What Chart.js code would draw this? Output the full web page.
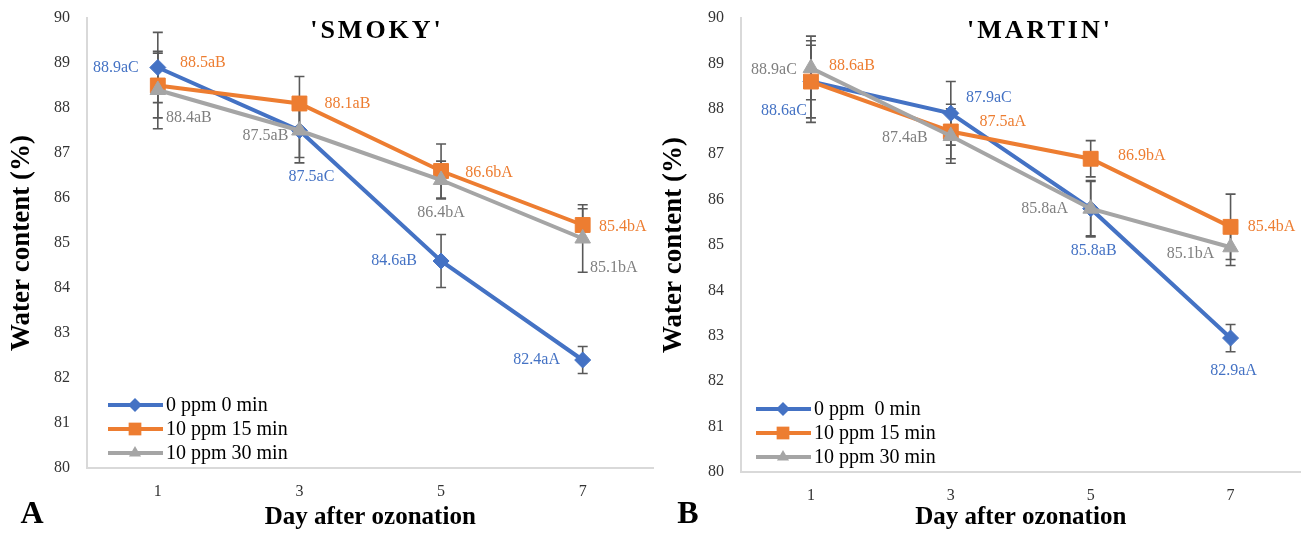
<!DOCTYPE html>
<html>
<head>
<meta charset="utf-8">
<script src="https://cdn.jsdelivr.net/npm/chart.js@4"></script>
<style>
  html, body { margin: 0; padding: 0; background: #fff; }
  #wrap { position: relative; width: 1304px; height: 533px; overflow: hidden; }
  .box { position: absolute; top: 0; height: 533px; }
</style>
</head>
<body>
<div id="wrap">
  <div class="box" style="left:0;width:665px"><canvas id="smoky"></canvas></div>
  <div class="box" style="left:652px;width:660px"><canvas id="martin"></canvas></div>
</div>
<script>
const days = ['1', '3', '5', '7'];
const seriesNames = ['0 ppm 0 min', '10 ppm 15 min', '10 ppm 30 min'];
const seriesNamesB = ['0 ppm  0 min', '10 ppm 15 min', '10 ppm 30 min'];

// 'SMOKY'
const smokyControl = [88.9, 87.5, 84.6, 82.4];
const smokyOz15 = [88.5, 88.1, 86.6, 85.4];
const smokyOz30 = [88.4, 87.5, 86.4, 85.1];
const smokyControlErr = [0.78, 0.6, 0.59, 0.3];
const smokyOz15Err = [0.72, 0.6, 0.6, 0.36];
const smokyOz30Err = [0.86, 0.72, 0.42, 0.75];
const smokyControlTags = ['88.9aC', '87.5aC', '84.6aB', '82.4aA'];
const smokyOz15Tags = ['88.5aB', '88.1aB', '86.6bA', '85.4bA'];
const smokyOz30Tags = ['88.4aB', '87.5aB', '86.4bA', '85.1bA'];

// 'MARTIN'
const martinControl = [88.6, 87.9, 85.8, 82.95];
const martinOz15 = [88.6, 87.5, 86.9, 85.4];
const martinOz30 = [88.9, 87.4, 85.8, 84.95];
const martinControlErr = [0.9, 0.7, 0.6, 0.3];
const martinOz15Err = [0.8, 0.6, 0.4, 0.72];
const martinOz30Err = [0.7, 0.6, 0.62, 0.4];
const martinControlTags = ['88.6aC', '87.9aC', '85.8aB', '82.9aA'];
const martinOz15Tags = ['88.6aB', '87.5aA', '86.9bA', '85.4bA'];
const martinOz30Tags = ['88.9aC', '87.4aB', '85.8aA', '85.1bA'];

// where each value tag sits relative to its marker [dx, dy]
const smokyTagPos = [
  [[-42, 0], [12, 46], [-47, 0], [-46, 0]],
  [[45, -23], [48, 0], [48, 2], [40, 2]],
  [[31, 28], [-34, 5], [0, 33], [31, 29]]
];
const martinTagPos = [
  [[-27, 29], [38, -16], [3, 42], [3, 33]],
  [[41, -16], [52, -10], [51, -3], [41, 0]],
  [[-37, 2], [-46, 2], [-46, 0], [-40, 7]]
];

const BLUE = '#4472C4', ORANGE = '#ED7D31', GRAY = '#A5A5A5';
const tagColors = [BLUE, ORANGE, '#7F7F7F'];
const FONT = "'Liberation Serif', 'Times New Roman', serif";

function marker(ctx, style, x, y, r) {
  ctx.beginPath();
  if (style === 'rectRot') {
    ctx.moveTo(x - r, y); ctx.lineTo(x, y - r); ctx.lineTo(x + r, y); ctx.lineTo(x, y + r);
  } else if (style === 'rect') {
    const s = r * Math.SQRT1_2;
    ctx.rect(x - s, y - s, 2 * s, 2 * s);
  } else {
    const h = r * Math.sqrt(3) / 2;
    ctx.moveTo(x, y - r); ctx.lineTo(x + h, y + r / 2); ctx.lineTo(x - h, y + r / 2);
  }
  ctx.closePath();
  ctx.fill();
}

const deco = {
  id: 'deco',
  beforeDatasetsDraw(chart) {
    const ctx = chart.ctx, ys = chart.scales.y;
    ctx.save();
    ctx.strokeStyle = '#595959';
    ctx.lineWidth = 1.6;
    chart.data.datasets.forEach((ds, i) => {
      chart.getDatasetMeta(i).data.forEach((pt, j) => {
        const v = ds.data[j], e = ds.errors[j];
        const y1 = ys.getPixelForValue(v + e), y2 = ys.getPixelForValue(v - e);
        ctx.beginPath();
        ctx.moveTo(pt.x, y1); ctx.lineTo(pt.x, y2);
        ctx.moveTo(pt.x - 5, y1); ctx.lineTo(pt.x + 5, y1);
        ctx.moveTo(pt.x - 5, y2); ctx.lineTo(pt.x + 5, y2);
        ctx.stroke();
      });
    });
    ctx.restore();
  },
  afterDatasetsDraw(chart) {
    const ctx = chart.ctx;
    ctx.save();
    ctx.font = '16px ' + FONT;
    ctx.textAlign = 'center';
    ctx.textBaseline = 'middle';
    chart.data.datasets.forEach((ds, i) => {
      ctx.fillStyle = tagColors[i];
      chart.getDatasetMeta(i).data.forEach((pt, j) => {
        const p = ds.tagPos[j];
        ctx.fillText(ds.tags[j], pt.x + p[0], pt.y + p[1]);
      });
    });
    ctx.restore();
  },
  afterDraw(chart, args, o) {
    const ctx = chart.ctx;
    ctx.save();
    // title
    ctx.fillStyle = '#000';
    ctx.font = 'bold 26px ' + FONT;
    ctx.textAlign = 'center';
    ctx.textBaseline = 'middle';
    ctx.letterSpacing = '3px';
    ctx.fillText(o.title, o.titleX, 31);
    ctx.letterSpacing = '0px';
    // panel letter
    ctx.font = 'bold 32px ' + FONT;
    ctx.fillText(o.letter, o.letterX, 515);
    // legend
    ctx.font = '20px ' + FONT;
    ctx.textAlign = 'left';
    chart.data.datasets.forEach((ds, i) => {
      const y = o.legendY + i * 24;
      ctx.strokeStyle = ds.borderColor;
      ctx.lineWidth = 4;
      ctx.beginPath();
      ctx.moveTo(o.legendX, y); ctx.lineTo(o.legendX + 55, y);
      ctx.stroke();
      ctx.fillStyle = ds.borderColor;
      marker(ctx, ds.pointStyle, o.legendX + 27, y, ds.pointStyle === 'rect' ? 9 : 7);
      ctx.fillStyle = '#000';
      ctx.fillText(o.names[i], o.legendX + 58, y + 1);
    });
    ctx.restore();
  }
};

function makeChart(id, series, errs, tags, tagPos, opt) {
  const styles = [
    { color: BLUE, point: 'rectRot', r: 8, order: 2 },
    { color: ORANGE, point: 'rect', r: 10.5, order: 1 },
    { color: GRAY, point: 'triangle', r: 9, order: 0 }
  ];
  const datasets = series.map((d, i) => ({
    label: opt.names[i],
    data: d,
    errors: errs[i],
    tags: tags[i],
    tagPos: tagPos[i],
    order: styles[i].order,
    borderColor: styles[i].color,
    backgroundColor: styles[i].color,
    borderWidth: 4,
    pointStyle: styles[i].point,
    pointRadius: styles[i].r,
    pointBorderWidth: 1,
    tension: 0
  }));
  return new Chart(document.getElementById(id), {
    type: 'line',
    data: { labels: days, datasets },
    options: {
      responsive: true,
      maintainAspectRatio: false,
      animation: false,
      layout: { padding: { top: 18, right: 0, left: 0, bottom: 0 } },
      plugins: {
        legend: { display: false },
        tooltip: { enabled: false },
        deco: opt
      },
      scales: {
        x: {
          offset: true,
          grid: { display: false, drawTicks: true, tickLength: 14 },
          border: { color: '#D9D9D9', width: 2 },
          ticks: { color: '#333', padding: 0, font: { family: FONT, size: 16 } },
          title: {
            display: true, text: 'Day after ozonation', color: '#000',
            font: { family: FONT, size: 25, weight: 'bold' },
            padding: { top: 0, bottom: 0 }
          },
          afterFit: s => { s.height = opt.xHeight; }
        },
        y: {
          min: 80, max: 90,
          grid: { display: false, drawTicks: true, tickLength: 17 },
          border: { color: '#D9D9D9', width: 2 },
          ticks: { stepSize: 1, color: '#333', padding: 0, font: { family: FONT, size: 16 } },
          title: {
            display: true, text: 'Water content (%)', color: '#000',
            font: { family: FONT, size: 27, weight: 'bold' },
            padding: { top: 6, bottom: 0 }
          },
          afterFit: s => { s.width = opt.yWidth; }
        }
      }
    },
    plugins: [deco]
  });
}

makeChart('smoky',
  [smokyControl, smokyOz15, smokyOz30],
  [smokyControlErr, smokyOz15Err, smokyOz30Err],
  [smokyControlTags, smokyOz15Tags, smokyOz30Tags],
  smokyTagPos,
  { title: "'SMOKY'", titleX: 377, letter: 'A', letterX: 32, legendX: 108, legendY: 405,
    names: seriesNames, yWidth: 87, xHeight: 65 });

makeChart('martin',
  [martinControl, martinOz15, martinOz30],
  [martinControlErr, martinOz15Err, martinOz30Err],
  [martinControlTags, martinOz15Tags, martinOz30Tags],
  martinTagPos,
  { title: "'MARTIN'", titleX: 388, letter: 'B', letterX: 36, legendX: 104, legendY: 409,
    names: seriesNamesB, yWidth: 89, xHeight: 61 });
</script>
</body>
</html>
